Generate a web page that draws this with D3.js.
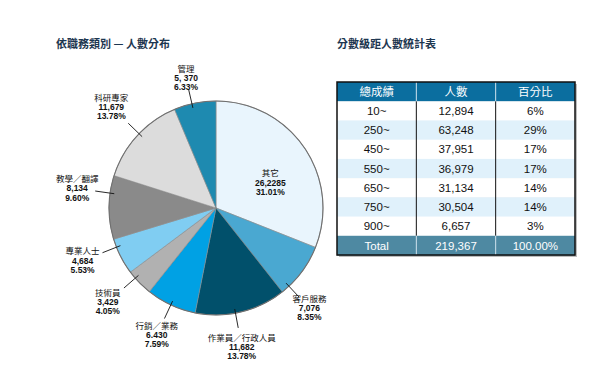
<!DOCTYPE html>
<html><head><meta charset="utf-8">
<script src="https://cdn.jsdelivr.net/npm/d3@7"></script>
<style>
body{margin:0;background:#fff;}
text{font-family:"Liberation Sans",Arial,"Noto Sans CJK TC",sans-serif;}
</style></head>
<body><svg id="c" width="600" height="370"></svg>
<script>
// ---- data ----
const categories = ["其它","客戶服務","作業員／行政人員","行銷／業務","技術員","專業人士","教學／翻譯","科研專家","管理"];
const countLabels = ["26,2285","7,076","11,682","6.430","3,429","4,684","8,134","11,679","5, 370"];
const percents = [31.01, 8.35, 13.78, 7.59, 4.05, 5.53, 9.60, 13.78, 6.33];
const sliceColors = ["#e9f5fd","#4aa8d1","#01506b","#00a1e4","#b1b1b1","#80cdf2","#8a8a8a","#dcdcdc","#1e8ab0"];

const tableHeader = ["總成績","人數","百分比"];
const scoreBands = ["10~","250~","450~","550~","650~","750~","900~"];
const bandCounts = ["12,894","63,248","37,951","36,979","31,134","30,504","6,657"];
const bandPercents = ["6%","29%","17%","17%","14%","14%","3%"];
const totalRow = ["Total","219,367","100.00%"];

// ---- layout (label placement: angle in degrees, text radius factor) ----
const labelAngle = [65, 137, 169.5, -155, -131, -111.5, -82, -46, -13];
const labelTextR = [0.56, 1.28, 1.32, 1.31, 1.34, 1.34, 1.31, 1.36, 1.245];

const svg = d3.select("#c");
const cx = 216, cy = 208, R = 107;

svg.append("text").attr("x",56).attr("y",48).attr("font-size",11).attr("font-weight","bold")
  .attr("fill","#1d3650").style("font-family","'Noto Sans CJK TC',sans-serif").text("依職務類別 — 人數分布");
svg.append("text").attr("x",337).attr("y",48).attr("font-size",11).attr("font-weight","bold")
  .attr("fill","#1d3650").style("font-family","'Noto Sans CJK TC',sans-serif").text("分數級距人數統計表");

const pie = d3.pie().sort(null).value(d=>d)(percents);
const arc = d3.arc().innerRadius(0).outerRadius(R);
const g = svg.append("g").attr("transform",`translate(${cx},${cy})`);
g.selectAll("path.s").data(pie).join("path").attr("class","s")
  .attr("d",arc).attr("fill",(d,i)=>sliceColors[i]).attr("stroke","#8a8a8a").attr("stroke-width",0.6);
g.append("circle").attr("r",R).attr("fill","none").attr("stroke","#6f6f6f").attr("stroke-width",1.1);

const polar = (deg, r) => { const a = deg*Math.PI/180; return [r*Math.sin(a), -r*Math.cos(a)]; };
pie.forEach((d,i)=>{
  if(i>0){
    const p1 = polar(labelAngle[i], R*0.96), p2 = polar(labelAngle[i], R*1.14);
    g.append("line").attr("x1",p1[0]).attr("y1",p1[1]).attr("x2",p2[0]).attr("y2",p2[1])
      .attr("stroke","#111").attr("stroke-width",0.9);
  }
  const t = polar(labelAngle[i], R*labelTextR[i]);
  const lines = [categories[i], countLabels[i], percents[i].toFixed(2)+"%"];
  const tg = g.append("g").attr("transform",`translate(${t[0]},${t[1]})`);
  lines.forEach((s,k)=>{
    tg.append("text").attr("x",0).attr("y",(k-1)*9.3).attr("dy","0.35em")
      .attr("text-anchor","middle").attr("font-size",8.5).attr("fill","#111")
      .attr("font-weight", k===0?"normal":"bold").text(s);
  });
});

// ---- table ----
const rows = [tableHeader].concat(scoreBands.map((b,i)=>[b,bandCounts[i],bandPercents[i]])).concat([totalRow]);
const x = d3.scaleBand().domain(d3.range(3)).range([337,575]);
const y = d3.scaleBand().domain(d3.range(rows.length)).range([82,255]);
const last = rows.length-1;
const tb = svg.append("g");
tb.append("rect").attr("x",339).attr("y",84).attr("width",238).attr("height",173).attr("fill","#bdbdbd");
const rowFill = i => i===0 ? "#0b6e9f" : i===last ? "#4e89a2" : (i%2===1 ? "#ffffff" : "#e0f1fb");
rows.forEach((r,i)=>{
  tb.append("rect").attr("x",337).attr("y",y(i)).attr("width",238).attr("height",y.bandwidth()+0.5).attr("fill",rowFill(i));
});
[1,2].forEach(c=>{
  tb.append("line").attr("x1",x(c)).attr("x2",x(c)).attr("y1",y(1)).attr("y2",y(last)).attr("stroke","#111").attr("stroke-width",1);
  tb.append("line").attr("x1",x(c)).attr("x2",x(c)).attr("y1",y(0)).attr("y2",y(1)).attr("stroke","#cfe3ee").attr("stroke-width",1);
  tb.append("line").attr("x1",x(c)).attr("x2",x(c)).attr("y1",y(last)).attr("y2",255).attr("stroke","#cfe3ee").attr("stroke-width",1);
});
tb.append("rect").attr("x",337).attr("y",82).attr("width",238).attr("height",173).attr("fill","none").attr("stroke","#111").attr("stroke-width",1.5);
rows.forEach((r,i)=>{
  r.forEach((s,c)=>{
    tb.append("text").attr("x",x(c)+x.bandwidth()/2).attr("y",y(i)+y.bandwidth()/2).attr("dy","0.36em")
      .attr("text-anchor","middle").attr("font-size", 11.5)
      .attr("fill",(i===0||i===last)?"#ffffff":"#111").text(s);
  });
});
</script></body></html>
